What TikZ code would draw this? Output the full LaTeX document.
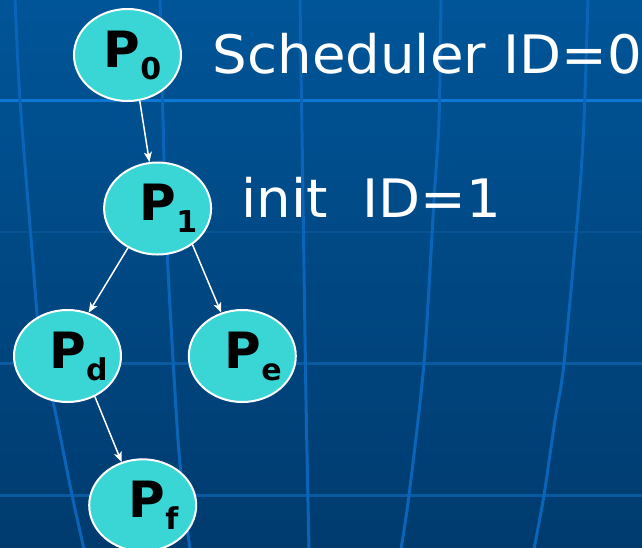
\documentclass[tikz,border=0pt]{standalone}
\usepackage{fontspec}
\setmainfont{DejaVu Sans}
\newfontfamily\capfont{DejaVu Sans}[FakeStretch=1.03]
\usetikzlibrary{shapes.geometric,arrows.meta}

\definecolor{bgtop}{HTML}{005598}
\definecolor{bgbot}{HTML}{003B6E}
\definecolor{gridbright}{HTML}{0A78D6}
\definecolor{gridline}{HTML}{0A65B8}
\definecolor{gridfaint}{HTML}{0A5AA2}
\definecolor{proc}{HTML}{3AD6D6}

% process label: P with a lowered bold subscript, set in a zero-width box
% so that the ellipse keeps its own size; #2 nudges the text to the right
\newcommand{\proclabel}[2]{\makebox[0pt]{\hspace*{#2}{\fontsize{50}{50}\selectfont P}\raisebox{-12pt}{\fontsize{30}{30}\selectfont #1}}}

\tikzset{
  procnode/.style={ellipse, draw=white, line width=2pt, fill=proc,
    minimum width=107pt, minimum height=92pt, inner sep=0pt,
    font=\bfseries, text=black},
  spawn/.style={draw=white, line width=1.5pt,
    -{Stealth[length=10pt,width=8pt,inset=2.5pt]}},
  caption/.style={anchor=base west, inner sep=0pt, text=white,
    font=\capfont\fontsize{53}{60}\selectfont},
  meridian/.style={gridline, line width=3pt},
}

\begin{document}
\begin{tikzpicture}[x=1pt,y=-1pt]
\useasboundingbox (0,0) rectangle (642,547);

% backdrop
\shade[top color=bgtop, bottom color=bgbot] (0,0) rectangle (642,547);

% globe grid: parallels
\draw[gridbright, line width=3pt] (0,100.5) -- (642,100.5);
\draw[gridfaint, line width=2pt, opacity=0.6] (0,232) -- (642,232);
\draw[gridfaint, line width=3pt] (0,363) -- (642,363);
\draw[gridfaint, line width=3pt] (0,495) -- (642,495);

% globe grid: meridians
\draw[meridian] plot[smooth] coordinates {(15,-2) (20,100) (32,250) (40,340) (57,420) (72,495) (84,549)};
\draw[meridian] plot[smooth] coordinates {(160,-2) (163,120) (167,250) (177,425) (183,495) (190,549)};
\draw[meridian] plot[smooth] coordinates {(300,-2) (303,200) (306,400) (309,549)};
\draw[meridian] plot[smooth] coordinates {(441,-2) (439,120) (434,200) (424,363) (409,495) (401,549)};
\draw[meridian] plot[smooth] coordinates {(588,-2) (584,120) (579,200) (564,363) (555,420) (544,495) (534,549)};

% process tree
\node[procnode] (p0) at (127.5,55)    {\proclabel{0}{10pt}};
\node[procnode] (p1) at (157.6,208.5) {\proclabel{1}{22pt}};
\node[procnode] (pd) at (67.5,356)    {\proclabel{d}{22pt}};
\node[procnode] (pe) at (242.3,356)   {\proclabel{e}{22pt}};
\node[procnode] (pf) at (142.7,505.3) {\proclabel{f}{22pt}};

\draw[spawn] (p0.-75.5) -- (p1.100.5);
\draw[spawn] (p1.-127)  -- (pd.64);
\draw[spawn] (p1.-46)   -- (pe.116);
\draw[spawn] (pd.-56)   -- (pf.116);

% captions
\node[caption] (sched) at (212.5,73) {Scheduler ID=0};
\node[caption] (init)  at (241.5,217) {init\ \ ID=1};
\end{tikzpicture}
\end{document}
